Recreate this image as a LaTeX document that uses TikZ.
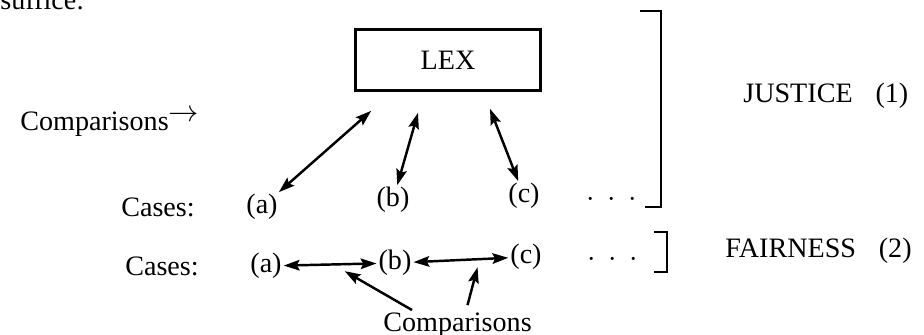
\documentclass[tikz,border=0pt]{standalone}
\usepackage{fontspec}
\setmainfont{Liberation Serif}
\usepackage{tikz}
\usetikzlibrary{arrows.meta, positioning, calc}
\newcommand{\spreaddots}{$\cdot$\hspace{0.45em}$\cdot$\hspace{0.45em}$\cdot$}

\begin{document}
\begin{tikzpicture}[
    x=0.02cm, y=-0.02cm,
    font=\fontsize{16}{19}\selectfont,
    node distance=0.95cm,
    lexbox/.style={rectangle, draw, line width=1.5pt, minimum width=3.7cm, minimum height=1.22cm},
    case/.style={inner sep=1pt},
    txt/.style={inner sep=0pt, anchor=base west},
    cmp/.style={{Stealth[length=9pt,width=6pt,inset=1.5pt]}-{Stealth[length=9pt,width=6pt,inset=1.5pt]}, line width=1.4pt},
    ptr/.style={-{Stealth[length=9pt,width=6pt,inset=1.5pt]}, line width=1.4pt},
    bracket/.style={line width=1.6pt}
]
\useasboundingbox (0,0) rectangle (924,335);

% end of the line above, cut by the page
\node[txt] (prev) at (0,9) {suffice:};

% LEX
\node[lexbox] (lex) at (448,60) {LEX};
\node[txt] (cmpL) at (20,130) {Comparisons\raisebox{0.3em}{$\rightarrow$}};

% Cases, row 1
\node[case] (a1) at (262,207) {(a)};
\node[case] (b1) at (393,200) {(b)};
\node[case] (c1) at (524,196) {(c)};
\node[case, left=of a1] (cases1) {Cases:};
\node[case, anchor=base] (dots1) at (612,206) {\spreaddots};

\draw[cmp] (a1) -- ($(lex.south west)+(17,19)$);
\draw[cmp] (b1) -- ($(lex.south)+(-30,21)$);
\draw[cmp] (c1) -- ($(lex.south)+(42,17)$);

% Cases, row 2
\node[case] (a2) at (266,266) {(a)};
\node[case] (b2) at (395,263) {(b)};
\node[case] (c2) at (526,257) {(c)};
\node[case, left=of a2] (cases2) {Cases:};
\node[case, anchor=base] (dots2) at (613,266) {\spreaddots};

\draw[cmp] (a2) -- (b2);
\draw[cmp] (b2) -- (c2);

\node[txt] (cmpB) at (383,331) {Comparisons};
\draw[ptr] ($(cmpB.north west)+(29,-2)$) -- ($(a2)!0.61!(b2)+(0,7)$);
\draw[ptr] ($(cmpB.north)+(10,-7)$) -- ($(b2)!0.63!(c2)+(0,8)$);

% Brackets and labels
\draw[bracket] (640,11) -| (661,207) -- (645,207);
\draw[bracket] (654,232) -| (667,272) -- (654,272);
\node[txt] (justice) at (743,102) {JUSTICE\hspace{13pt}(1)};
\node[txt] (fairness) at (725,257) {FAIRNESS\hspace{13pt}(2)};

\end{tikzpicture}
\end{document}
